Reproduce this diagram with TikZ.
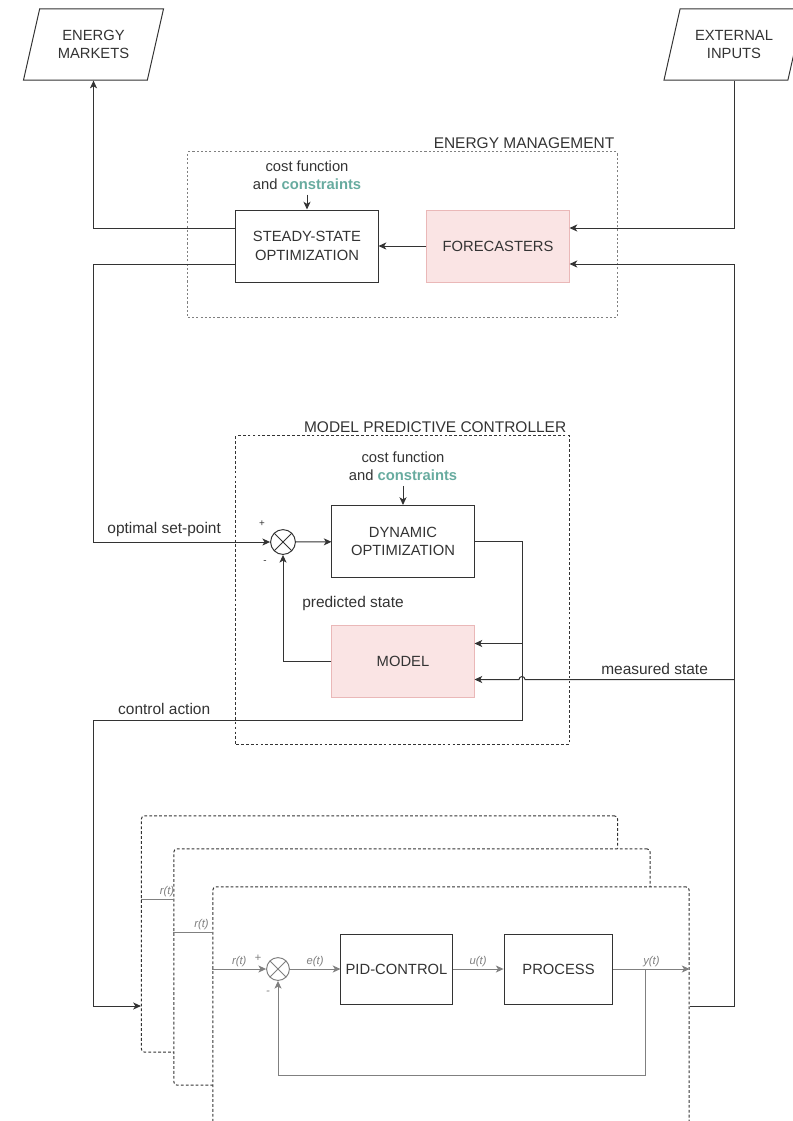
\documentclass[tikz,border=0pt]{standalone}
\usepackage{fontspec}
\setmainfont{Liberation Sans}
\usetikzlibrary{arrows.meta,shapes.geometric}
\definecolor{txt}{RGB}{51,51,51}
\definecolor{pinkfill}{RGB}{250,228,228}
\definecolor{pinkline}{RGB}{234,184,184}
\definecolor{constr}{RGB}{103,171,159}
\definecolor{loopgray}{RGB}{128,128,128}

\begin{document}
\begin{tikzpicture}[
        x=0.025cm, y=-0.025cm, line width=0.7pt, txt, text=txt,
        font=\fontsize{10.5}{13}\selectfont,
        block/.style={rectangle, draw, minimum width=3.55cm, minimum height=1.8cm, align=center},
        pinkblock/.style={block, fill=pinkfill, draw=pinkline},
        smallblock/.style={block, minimum width=2.72cm, minimum height=1.75cm},
        io/.style={trapezium, trapezium left angle=67, trapezium right angle=113, trapezium stretches body=true, draw, minimum width=3.5cm, minimum height=1.78cm, align=center},
        sum/.style={circle, draw, minimum size=0.62cm, inner sep=0pt, path picture={\draw (path picture bounding box.north west) -- (path picture bounding box.south east) (path picture bounding box.south west) -- (path picture bounding box.north east);}},
        frame/.style={rectangle, draw, dash pattern=on 2pt off 1.5pt},
        sheet/.style={frame, fill=white, rounded corners=2pt, minimum width=11.9cm, minimum height=5.9cm},
        lab/.style={font=\fontsize{11}{13}\selectfont},
        sig/.style={font=\fontsize{8}{9}\selectfont\itshape, text=loopgray, inner sep=1.5pt},
        arrow/.style={-{Stealth[length=5.5pt, width=5pt, inset=1.5pt]}},
        gline/.style={loopgray},
        garrow/.style={arrow, loopgray}
    ]
    \useasboundingbox (0,0) rectangle (793,1121);

    % energy management
    \node[io] (markets) at (93.5,44.5) {ENERGY\\MARKETS};
    \node[io] (inputs) at (734,44.5) {EXTERNAL\\INPUTS};
    \node[frame, draw=gray, dash pattern=on 1.5pt off 1.5pt, minimum width=10.725cm, minimum height=4.125cm] (em) at (402.5,234.5) {};
    \node[lab, above left, inner sep=2pt] at (em.north east) {ENERGY MANAGEMENT};
    \node[block] (steady) at (307,246) {STEADY-STATE\\OPTIMIZATION};
    \node[pinkblock] (forecast) at (498,246) {FORECASTERS};
    \node[align=center] (cost1) at (307,175) {cost function\\and \textbf{\color{constr}constraints}};

    % model predictive controller
    \node[frame, minimum width=8.325cm, minimum height=7.7cm] (mpc) at (402.5,590) {};
    \node[lab, above left, inner sep=2pt] at (mpc.north east) {MODEL PREDICTIVE CONTROLLER};
    \node[sum] (sum) at (283,542) {};
    \node[block] (dyn) at (403,541.5) {DYNAMIC\\OPTIMIZATION};
    \node[pinkblock] (model) at (403,661.5) {MODEL};
    \node[align=center] (cost2) at (403,466) {cost function\\and \textbf{\color{constr}constraints}};
    \node[lab] at (353,603) {predicted state};
    \node[font=\scriptsize] at (262,524) {+};
    \node[font=\scriptsize] at (265,562) {-};

    % local loops
    \node[sheet] (back) at (379.5,934) {};
    \node[sheet] (middle) at (412,967) {};
    \node[sheet, minimum height=5.95cm] (front) at (451,1006) {};
    \node[sum, draw=loopgray, minimum size=0.57cm] (sum2) at (278,969) {};
    \node[smallblock] (pid) at (396.5,969) {PID-CONTROL};
    \node[smallblock] (process) at (558.5,969) {PROCESS};
    \node[sig] at (258,958) {+};
    \node[sig] at (268,993) {-};

    \coordinate (ssout1) at ([yshift=0.45cm]steady.west);
    \coordinate (ssout2) at ([yshift=-0.45cm]steady.west);
    \coordinate (fcin1) at ([yshift=0.45cm]forecast.east);
    \coordinate (fcin2) at ([yshift=-0.45cm]forecast.east);
    \coordinate (mdin1) at ([yshift=0.45cm]model.east);
    \coordinate (mdin2) at ([yshift=-0.45cm]model.east);
    \coordinate (ctrl) at (522,720);
    \coordinate (rt1) at ([yshift=0.875cm]back.west);
    \coordinate (rt2) at ([yshift=0.875cm]middle.west);

    \draw[arrow] (ssout1) -| (markets.south);
    \draw[arrow] (inputs.south) |- (fcin1);
    \draw[arrow] (forecast) -- (steady);
    \draw[arrow] (cost1) -- (steady);
    \draw[arrow] (ssout2) -| (markets.south |- sum) -- node[lab, above, pos=0.4] {optimal set-point} (sum);
    \draw[arrow] (cost2) -- (dyn);
    \draw[arrow] (sum) -- (dyn);
    \draw[arrow] (model.west) -| (sum.south);
    \draw[arrow] (dyn.east) -| (ctrl) -- node[lab, above, pos=0.835] {control action} (ctrl -| markets.south) |- (back.west |- front.east);
    \draw[arrow] (ctrl |- mdin1) -- (mdin1);
    \draw[arrow] (inputs.south |- mdin2) -- node[lab, above, pos=0.38] {measured state} ([xshift=0.075cm]ctrl |- mdin2) arc[start angle=0, end angle=-180, radius=3] -- (mdin2);
    \draw[arrow] (front.east) -| (inputs.south |- fcin2) -- (fcin2);

    \draw[gline] (rt1) -- (rt1 -| middle.west) node[sig, pos=0.8, above] {r(t)};
    \draw[gline] (rt2) -- (rt2 -| front.west) node[sig, pos=0.72, above] {r(t)};
    \draw[garrow] (front.west |- sum2) -- node[sig, above] {r(t)} (sum2);
    \draw[garrow] (sum2) -- node[sig, above] {e(t)} (pid);
    \draw[garrow] (pid) -- node[sig, above] {u(t)} (process);
    \draw[garrow] (process) -- node[sig, above] {y(t)} (process -| front.east);
    \draw[garrow] ([xshift=0.8cm]process.east) -- ++(0,106) -| (sum2.south);
\end{tikzpicture}
\end{document}
